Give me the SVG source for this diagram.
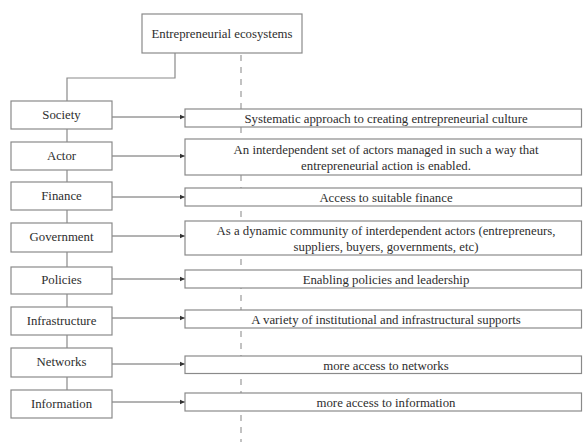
<svg xmlns="http://www.w3.org/2000/svg" width="583" height="442" viewBox="0 0 583 442">
<style>
.box{fill:#fff;stroke:#8a8a8a;stroke-width:1.2}
.t{font-family:"Liberation Serif",serif;font-size:12.8px;fill:#2e2e2e;text-anchor:middle}
.c{fill:none;stroke:#8a8a8a;stroke-width:1.2}
.a{fill:none;stroke:#666;stroke-width:1}
.d{fill:none;stroke:#9a9a9a;stroke-width:1.2;stroke-dasharray:6 6}
</style>
<defs>
<marker id="ah" markerWidth="6" markerHeight="6" refX="5" refY="3" orient="auto" markerUnits="userSpaceOnUse">
<path d="M0,0.8 L5,3 L0,5.2 Z" fill="#333"/>
</marker>
</defs>
<rect width="583" height="442" fill="#fff"/>
<g id="connectors">
<path class="d" d="M241,55 V442"/>
<path class="c" d="M175,53 V78 H67 V101 M67,129 V142 M67,170 V182 M67,210 V223 M67,252 V267 M67,294 V307 M67,335 V348 M67,377 V390"/>
<path class="a" marker-end="url(#ah)" d="M112,117 H185"/>
<path class="a" marker-end="url(#ah)" d="M112,156 H185"/>
<path class="a" marker-end="url(#ah)" d="M112,197 H185"/>
<path class="a" marker-end="url(#ah)" d="M112,236 H185"/>
<path class="a" marker-end="url(#ah)" d="M112,279 H185"/>
<path class="a" marker-end="url(#ah)" d="M112,318 H185"/>
<path class="a" marker-end="url(#ah)" d="M112,364 H185"/>
<path class="a" marker-end="url(#ah)" d="M112,402 H185"/>
</g>
<g id="root"><rect class="box" x="142" y="14" width="160" height="39"/><text class="t" x="222" y="37.5">Entrepreneurial ecosystems</text></g>
<g id="society"><rect class="box" x="11" y="101" width="101" height="28"/><text class="t" x="61.5" y="119">Society</text></g>
<g id="actor"><rect class="box" x="11" y="142" width="101" height="28"/><text class="t" x="61.5" y="160">Actor</text></g>
<g id="finance"><rect class="box" x="11" y="182" width="101" height="28"/><text class="t" x="61.5" y="200">Finance</text></g>
<g id="government"><rect class="box" x="11" y="223" width="101" height="29"/><text class="t" x="61.5" y="241">Government</text></g>
<g id="policies"><rect class="box" x="11" y="267" width="101" height="27"/><text class="t" x="61.5" y="284">Policies</text></g>
<g id="infrastructure"><rect class="box" x="11" y="307" width="101" height="28"/><text class="t" x="61.5" y="325">Infrastructure</text></g>
<g id="networks"><rect class="box" x="11" y="348" width="101" height="29"/><text class="t" x="61.5" y="366">Networks</text></g>
<g id="information"><rect class="box" x="11" y="390" width="101" height="28"/><text class="t" x="61.5" y="408">Information</text></g>
<g id="d-society"><rect class="box" x="185" y="109" width="396.5" height="18"/><text class="t" x="386" y="122.5">Systematic approach to creating entrepreneurial culture</text></g>
<g id="d-actor"><rect class="box" x="185" y="139" width="396.5" height="36"/><text class="t" x="386" y="153.5">An interdependent set of actors managed in such a way that</text><text class="t" x="386" y="169.5">entrepreneurial action is enabled.</text></g>
<g id="d-finance"><rect class="box" x="185" y="188" width="396.5" height="18"/><text class="t" x="386" y="201.5">Access to suitable finance</text></g>
<g id="d-government"><rect class="box" x="185" y="221" width="396.5" height="34"/><text class="t" x="386" y="234.5">As a dynamic community of interdependent actors (entrepreneurs,</text><text class="t" x="386" y="250.5">suppliers, buyers, governments, etc)</text></g>
<g id="d-policies"><rect class="box" x="185" y="270" width="396.5" height="18"/><text class="t" x="386" y="283.5">Enabling policies and leadership</text></g>
<g id="d-infrastructure"><rect class="box" x="185" y="310" width="396.5" height="18"/><text class="t" x="386" y="323.5">A variety of institutional and infrastructural supports</text></g>
<g id="d-networks"><rect class="box" x="185" y="356" width="396.5" height="17.5"/><text class="t" x="386" y="369.5">more access to networks</text></g>
<g id="d-information"><rect class="box" x="185" y="393" width="396.5" height="18"/><text class="t" x="386" y="406.5">more access to information</text></g>
</svg>
